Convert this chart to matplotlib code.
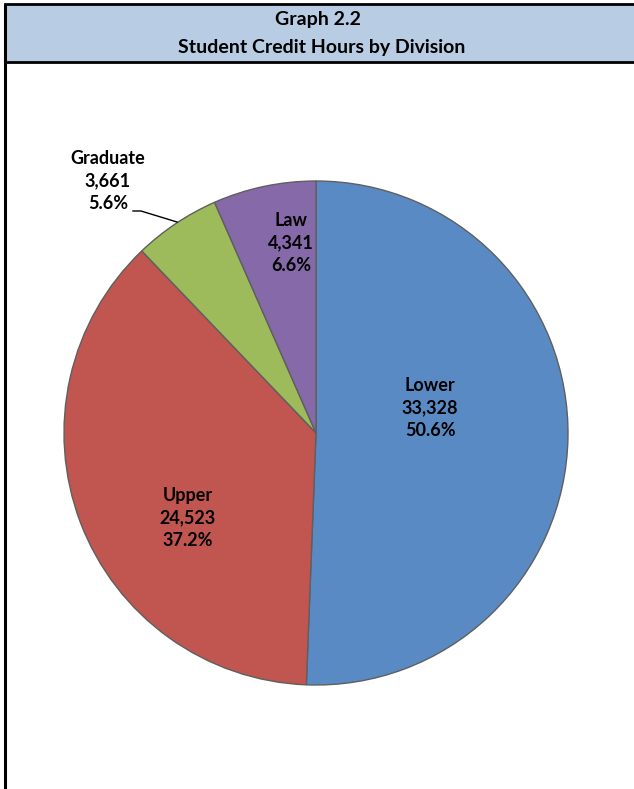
import matplotlib
matplotlib.use("Agg")
import matplotlib.pyplot as plt
from matplotlib.patches import Rectangle

plt.rcParams['font.family'] = ['Lato', 'DejaVu Sans']

categories = ["Lower", "Upper", "Graduate", "Law"]
values = [33328, 24523, 3661, 4341]
colors = ["#5A8AC4", "#C1554F", "#9DBB5A", "#8669A8"]
title_lines = ["Graph 2.2", "Student Credit Hours by Division"]

W, H = 634, 789
fig = plt.figure(figsize=(W / 100, H / 100), dpi=100)
ax = fig.add_axes([0, 0, 1, 1])

def py(y):
    return H - y

total = sum(values)
wedges, _ = ax.pie(values, colors=colors, startangle=90, counterclock=False,
                   center=(316, py(433)), radius=252, frame=True,
                   wedgeprops=dict(edgecolor="#5F5F5F", linewidth=1))
ax.set_xlim(0, W)
ax.set_ylim(0, H)
ax.axis('off')

# header
ax.add_patch(Rectangle((5, py(62)), W, 58, facecolor="#B8CCE4", edgecolor="black", lw=2, zorder=1, clip_on=False))
ax.plot([5, 5], [py(4), py(800)], color="black", lw=2.2, zorder=2, solid_capstyle='butt')
ax.text(318, py(19), title_lines[0], ha='center', va='center', fontsize=14, fontweight='bold')
ax.text(322, py(47), title_lines[1], ha='center', va='center', fontsize=14, fontweight='bold')

def lab(i):
    return f"{categories[i]}\n{values[i]:,}\n{values[i] / total * 100:.1f}%"

label_pos = {0: (430, 408), 1: (188, 518), 3: (291, 243), 2: (108, 181)}
for i, (x, y) in label_pos.items():
    ax.text(x, py(y), lab(i), ha='center', va='center', fontsize=13, fontweight='bold',
            linespacing=1.38, color="black")

# leader line for Graduate
ax.plot([133, 141, 177], [py(211), py(211), py(222)], color="black", lw=1)

fig.savefig("out.png", dpi=100)
